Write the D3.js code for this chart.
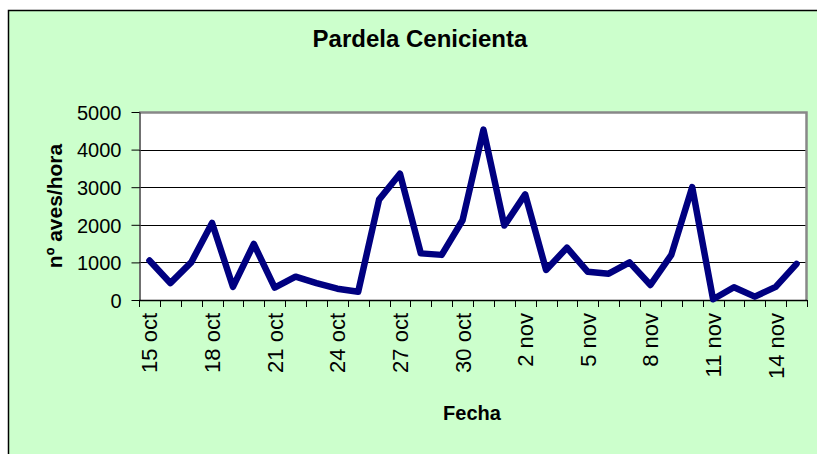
<!DOCTYPE html>
<html>
<head>
<meta charset="utf-8">
<script src="https://cdn.jsdelivr.net/npm/d3@7"></script>
<style>
    body { margin: 0; background: #ffffff; }
    text { font-family: "Liberation Sans", Arial, sans-serif; fill: #000000; }
</style>
</head>
<body>
<svg id="chart" width="817" height="454"></svg>
<script>
'use strict';

// days 15 oct .. 15 nov
var fechas = ["15 oct", "16 oct", "17 oct", "18 oct", "19 oct", "20 oct", "21 oct", "22 oct",
    "23 oct", "24 oct", "25 oct", "26 oct", "27 oct", "28 oct", "29 oct", "30 oct", "31 oct",
    "1 nov", "2 nov", "3 nov", "4 nov", "5 nov", "6 nov", "7 nov", "8 nov", "9 nov", "10 nov",
    "11 nov", "12 nov", "13 nov", "14 nov", "15 nov"];

var avesHora = [1050, 450, 1000, 2050, 350, 1490, 330, 620,
    450, 300, 220, 2670, 3360, 1240, 1200, 2120, 4530,
    1980, 2810, 800, 1390, 750, 700, 1000, 400, 1200, 3000,
    20, 340, 90, 350, 960];

var yTicks = [0, 1000, 2000, 3000, 4000, 5000];
var gridTicks = [1000, 2000, 3000, 4000];

function drawChart() {
    var svg = d3.select("#chart");
    var left = 139, right = 807, top = 112, bottom = 300;

    // chart area frame
    svg.append("rect")
        .attr("x", 8.5)
        .attr("y", 10.5)
        .attr("width", 830)
        .attr("height", 460)
        .attr("fill", "#ccffcc")
        .attr("stroke", "#000000")
        .attr("stroke-width", 1.5);

    svg.append("text")
        .attr("x", 420)
        .attr("y", 47)
        .attr("text-anchor", "middle")
        .attr("font-size", "24px")
        .attr("font-weight", "bold")
        .text("Pardela Cenicienta");

    var x = d3.scaleBand()
        .domain(fechas)
        .range([left, right]);

    var y = d3.scaleLinear()
        .domain([0, 5000])
        .range([bottom, top]);

    // plot area
    svg.append("rect")
        .attr("x", left)
        .attr("y", top)
        .attr("width", right - left)
        .attr("height", bottom - top)
        .attr("fill", "#ffffff");

    svg.append("g")
        .selectAll("line")
        .data(gridTicks)
        .enter()
        .append("line")
        .attr("x1", left)
        .attr("x2", right)
        .attr("y1", function (d) { return Math.round(y(d)) + 0.5; })
        .attr("y2", function (d) { return Math.round(y(d)) + 0.5; })
        .attr("stroke", "#000000")
        .attr("stroke-width", 1);

    // grey border top and right
    svg.append("path")
        .attr("d", "M" + left + "," + (top + 0.5) + "H" + (right - 0.5) + "V" + bottom)
        .attr("fill", "none")
        .attr("stroke", "#888888")
        .attr("stroke-width", 2.5);

    // y axis
    var yAxis = svg.append("g")
        .attr("transform", "translate(" + (left + 0.5) + ",0)")
        .call(d3.axisLeft(y).tickValues(yTicks).tickFormat(d3.format("d"))
            .tickSize(8).tickPadding(10).tickSizeOuter(0));
    yAxis.select(".domain").attr("stroke", "#404040").attr("stroke-width", 1.5);
    yAxis.selectAll(".tick line").attr("stroke", "#000000");
    yAxis.selectAll("text")
        .attr("font-size", "20px")
        .attr("font-family", "'Liberation Sans', Arial, sans-serif")
        .attr("dy", "0.36em");

    // x axis: ticks between categories
    var tickPos = fechas.map(function (d) { return x(d); }).concat([right]);
    svg.append("line")
        .attr("x1", left)
        .attr("x2", right)
        .attr("y1", bottom + 0.5)
        .attr("y2", bottom + 0.5)
        .attr("stroke", "#000000")
        .attr("stroke-width", 1.5);

    svg.append("g")
        .selectAll("line")
        .data(tickPos)
        .enter()
        .append("line")
        .attr("x1", function (d) { return Math.round(d) + 0.5; })
        .attr("x2", function (d) { return Math.round(d) + 0.5; })
        .attr("y1", bottom)
        .attr("y2", bottom + 7)
        .attr("stroke", "#000000");

    svg.append("g")
        .selectAll("text")
        .data(fechas.filter(function (d, i) { return i % 3 === 0; }))
        .enter()
        .append("text")
        .attr("transform", function (d) {
            return "translate(" + (x(d) + x.bandwidth() / 2 + 8) + "," + 313 + ") rotate(-90)";
        })
        .attr("text-anchor", "end")
        .attr("font-size", "22px")
        .text(function (d) { return d; });

    // series line
    var line = d3.line()
        .x(function (d, i) { return x(fechas[i]) + x.bandwidth() / 2; })
        .y(function (d) { return y(d); });

    svg.append("path")
        .datum(avesHora)
        .attr("d", line)
        .attr("fill", "none")
        .attr("stroke", "#000080")
        .attr("stroke-width", 6.5)
        .attr("stroke-linejoin", "round")
        .attr("stroke-linecap", "round");

    svg.append("text")
        .attr("x", 472)
        .attr("y", 420)
        .attr("text-anchor", "middle")
        .attr("font-size", "20px")
        .attr("font-weight", "bold")
        .text("Fecha");

    svg.append("text")
        .attr("transform", "translate(62,206) rotate(-90)")
        .attr("text-anchor", "middle")
        .attr("font-size", "21px")
        .attr("font-weight", "bold")
        .text("nº aves/hora");
}

drawChart();
</script>
</body>
</html>
